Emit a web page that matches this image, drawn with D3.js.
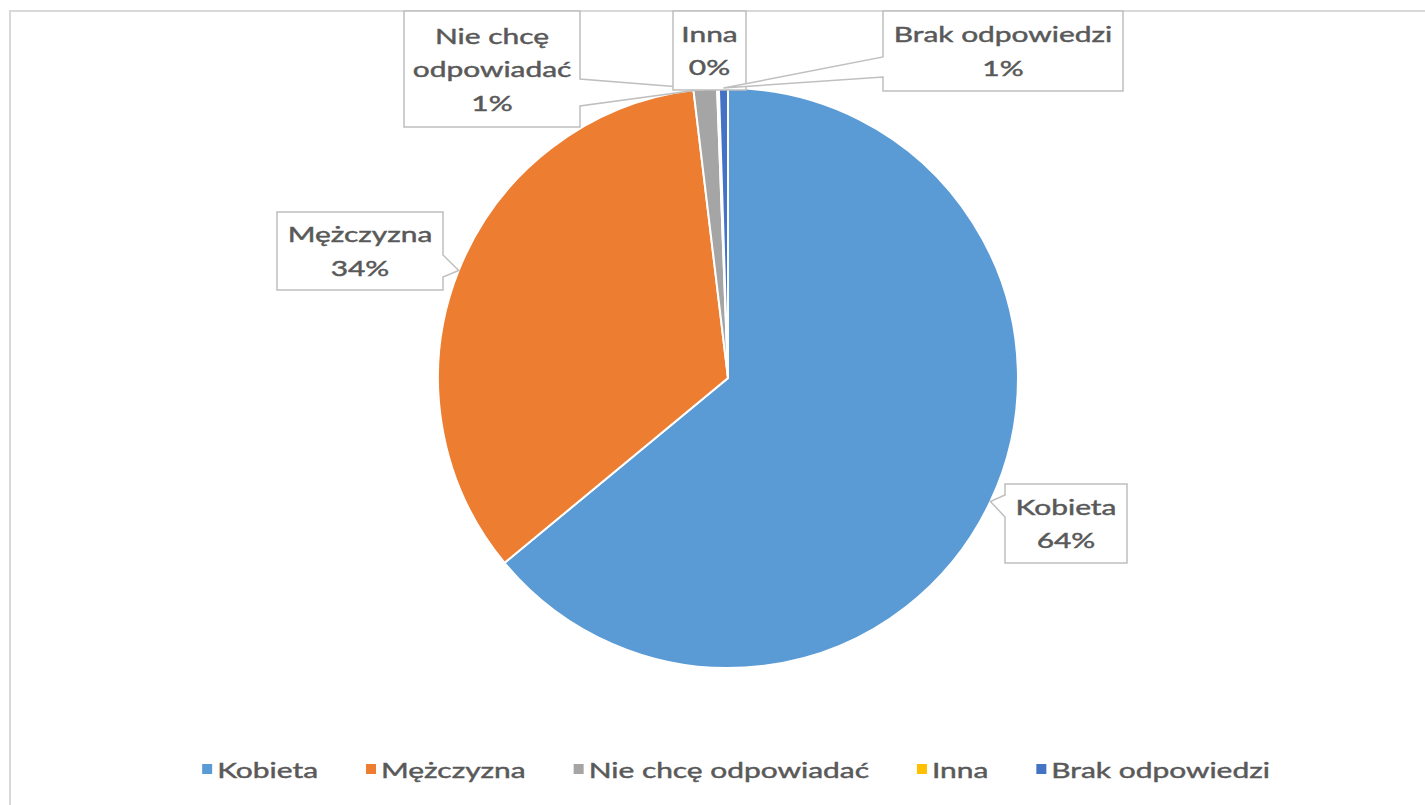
<!DOCTYPE html>
<html>
<head>
<meta charset="utf-8">
<script src="https://cdn.jsdelivr.net/npm/d3@7"></script>
<style>
  body { margin: 0; background: #fff; }
  svg text { font-family: Lato, "Open Sans", sans-serif; fill: #595959; stroke: #595959; stroke-width: 0.45px; }
</style>
</head>
<body>
<div id="chart"></div>
<script>
// data
const categories = ["Kobieta", "Mężczyzna", "Nie chcę odpowiadać", "Inna", "Brak odpowiedzi"];
const shares = [64.0, 34.1, 1.3, 0.1, 0.5];
const labelLines = [["Kobieta"], ["Mężczyzna"], ["Nie chcę", "odpowiadać"], ["Inna"], ["Brak odpowiedzi"]];
const colors = ["#5b9bd5", "#ed7d31", "#a5a5a5", "#ffc000", "#4472c4"];

const width = 1425, height = 805;
const cx = 728, cy = 378, radius = 290;
const fontSize = 22, stretch = 1.36;

// callout boxes (layout only): box corners and pointer base on one side
const callouts = [
  { x0: 1005, y0: 484, x1: 1127, y1: 563, side: "left", b0: 495, b1: 517 },
  { x0: 277, y0: 212, x1: 443, y1: 290, side: "right", b0: 255, b1: 277 },
  { x0: 404, y0: 11, x1: 580, y1: 127, side: "right", b0: 79, b1: 106 },
  { x0: 673, y0: 11, x1: 746, y1: 90, side: "none" },
  { x0: 883, y0: 11, x1: 1123, y1: 91, side: "left", b0: 57, b1: 77 }
];

const svg = d3.select("#chart").append("svg")
  .attr("width", width)
  .attr("height", height);

// chart frame
svg.append("rect")
  .attr("x", 10).attr("y", 11)
  .attr("width", width + 20).attr("height", height + 20)
  .attr("fill", "none")
  .attr("stroke", "#d9d9d9")
  .attr("stroke-width", 2);

const pie = d3.pie().sort(null).value(d => d)(shares);
const arc = d3.arc().innerRadius(0).outerRadius(radius);

const g = svg.append("g").attr("transform", `translate(${cx},${cy})`);
g.selectAll("path.slice")
  .data(pie)
  .join("path")
  .attr("class", "slice")
  .attr("d", arc)
  .attr("fill", (d, i) => colors[i])
  .attr("stroke", "#fff")
  .attr("stroke-width", 2);

// callout labels
pie.forEach((p, i) => {
  const c = callouts[i];
  const mid = (p.startAngle + p.endAngle) / 2;
  // tip on the pie rim at the slice's middle angle
  const tx = cx + Math.sin(mid) * radius;
  const ty = cy - Math.cos(mid) * radius;
  let d;
  if (c.side === "left") {
    d = `M${c.x0},${c.y0}H${c.x1}V${c.y1}H${c.x0}V${c.b1}L${tx},${ty}L${c.x0},${c.b0}Z`;
  } else if (c.side === "right") {
    d = `M${c.x0},${c.y0}H${c.x1}V${c.b0}L${tx},${ty}L${c.x1},${c.b1}V${c.y1}H${c.x0}Z`;
  } else {
    d = `M${c.x0},${c.y0}H${c.x1}V${c.y1}H${c.x0}Z`;
  }
  svg.append("path")
    .attr("d", d)
    .attr("fill", "#fff")
    .attr("stroke", "#bfbfbf")
    .attr("stroke-width", 1.5);

  const lines = labelLines[i].concat([Math.round(shares[i]) + "%"]);
  const lh = 33.5;
  const midY = (c.y0 + c.y1) / 2;
  const firstBase = midY - (lines.length - 1) * lh / 2 + 8;
  lines.forEach((ln, k) => {
    svg.append("g")
      .attr("transform", `translate(${(c.x0 + c.x1) / 2},${firstBase + k * lh}) scale(${stretch},1)`)
      .append("text")
      .attr("text-anchor", "middle")
      .attr("font-size", fontSize)
      .text(ln);
  });
});

// legend
const legend = svg.append("g").attr("class", "legend");
const items = legend.selectAll("g.item")
  .data(categories)
  .join("g")
  .attr("class", "item");
items.append("rect")
  .attr("width", 10).attr("height", 10)
  .attr("y", -14)
  .attr("fill", (d, i) => colors[i]);
items.append("g")
  .attr("transform", `translate(15,0) scale(${stretch},1)`)
  .append("text")
  .attr("font-size", fontSize)
  .text(d => d);

let xpos = 0;
const offsets = [];
items.each(function () {
  const w = d3.select(this).select("text").node().getComputedTextLength() * stretch;
  offsets.push(xpos);
  xpos += 15 + w + 48;
});
const total = xpos - 48;
const startX = 736 - total / 2;
items.attr("transform", (d, i) => `translate(${startX + offsets[i]},${778})`);
</script>
</body>
</html>
